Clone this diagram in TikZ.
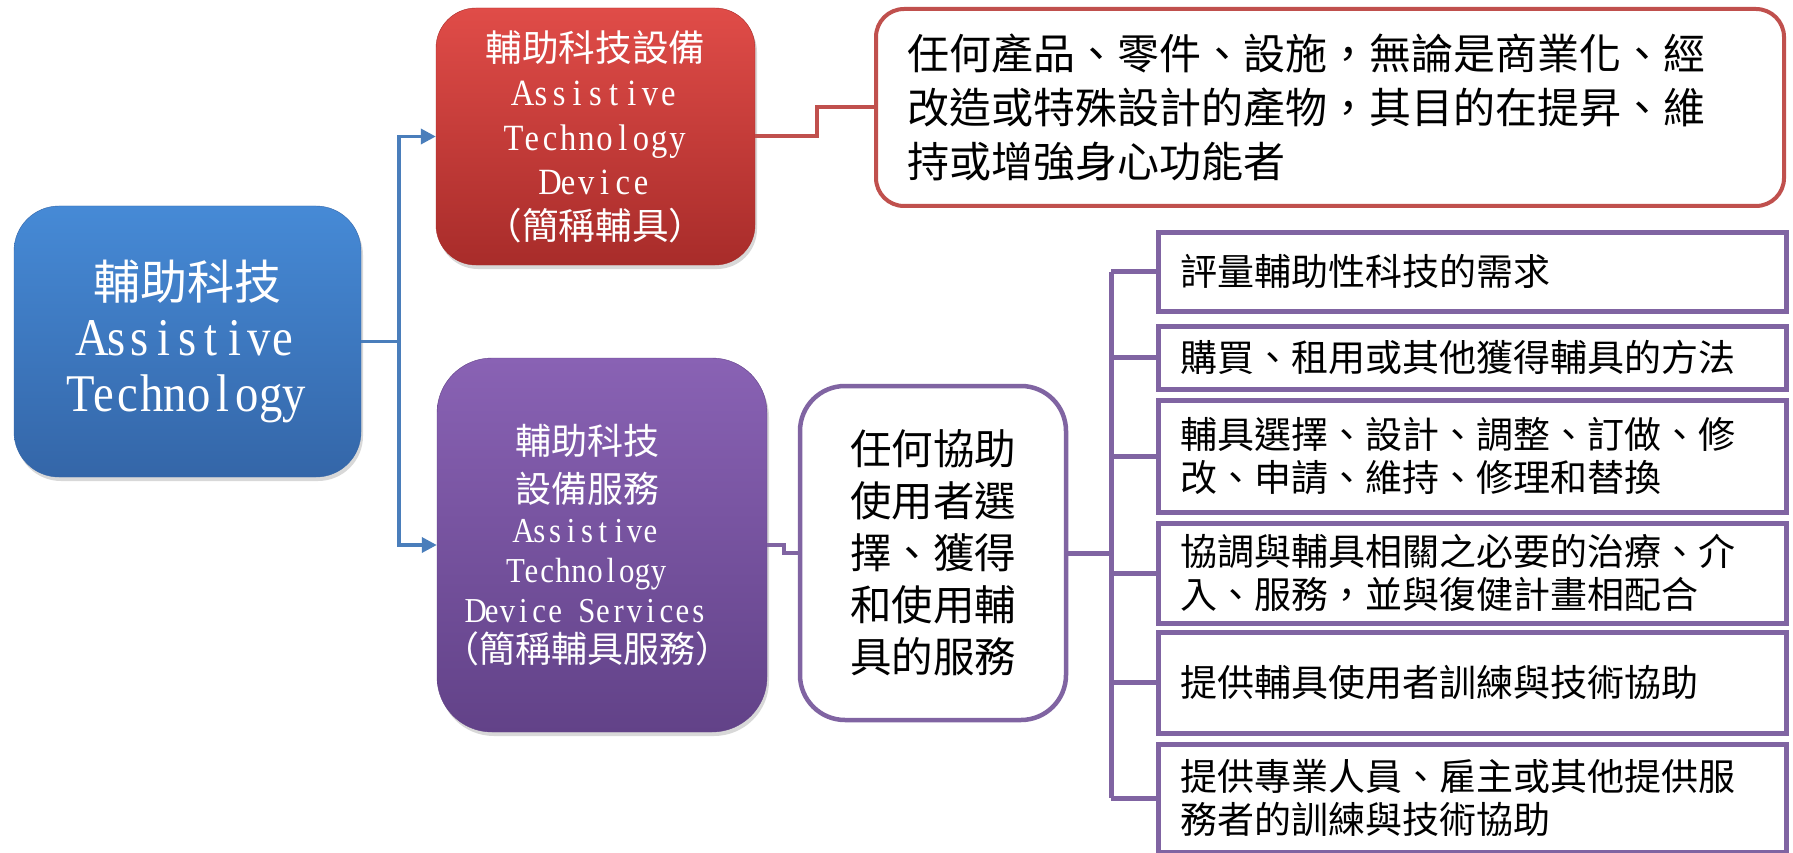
\documentclass[tikz,border=0pt]{standalone}
\usepackage{fontspec}
\setmainfont{Noto Sans CJK TC}
\newfontfamily\latinf[FakeStretch=0.88]{Liberation Serif}
\usetikzlibrary{positioning}
\usetikzlibrary{shadows}
\usetikzlibrary{arrows.meta}
\usepackage{xcolor}
\definecolor{blueA}{RGB}{70,138,214}
\definecolor{blueB}{RGB}{52,102,168}
\definecolor{blueL}{RGB}{74,126,187}
\definecolor{redA}{RGB}{224,76,72}
\definecolor{redB}{RGB}{168,44,42}
\definecolor{redL}{RGB}{192,80,77}
\definecolor{pplA}{RGB}{137,98,180}
\definecolor{pplB}{RGB}{98,66,136}
\definecolor{pplL}{RGB}{128,100,162}
% fixed pitch latin: size, pitch, text
\makeatletter
\newcommand{\en}[3]{{\latinf\fontsize{#1}{#1}\selectfont\def\en@w{#2}%
    \@tfor\en@c:=#3\do{\makebox[\en@w][c]{\en@c}}}}
\makeatother

\begin{document}
\begin{tikzpicture}[x=1pt, y=-1pt,
    colbox/.style = {rounded corners=#1, text=white, align=center,
                inner sep=0pt, drop shadow={opacity=0.3, shadow xshift=2pt, shadow yshift=-4pt}},
    colbox/.default = 45pt,
    itembox/.style = {draw=pplL, line width=5pt, minimum width=628pt,
                text width=584pt, inner xsep=22pt, inner ysep=0pt, align=left,
                font=\fontsize{37}{43}\selectfont},
    wire/.style = {draw=#1, line width=4pt},
    arr/.style = {-{Triangle[length=15pt,width=15pt]}}
                    ]
        \useasboundingbox[fill=white] (0,0) rectangle (1793,853);
        % left column
        \node[colbox=45pt, top color=blueA, bottom color=blueB, draw=blueB,
              minimum width=347pt, minimum height=271pt,
              font=\fontsize{47}{56}\selectfont] (AT) at (187.5,341.5)
              {輔助科技\\ \en{53}{23.8pt}{Assistive}\\ \en{53}{23.8pt}{Technology}};
        \node[colbox=40pt, top color=redA, bottom color=redB, draw=redB,
              minimum width=319pt, minimum height=257pt,
              font=\fontsize{36.6}{44.5}\selectfont] (ATD) at (595.5,136.5)
              {輔助科技設備\\ \en{37}{18.2pt}{Assistive}\\ \en{37}{18.2pt}{Technology}\\
               \en{37}{18.2pt}{Device}\\ （簡稱輔具）};
        \node[colbox=55pt, top color=pplA, bottom color=pplB, draw=pplB,
              minimum width=330pt, minimum height=374pt] (ATS) at (602,545) {};
        \node[text=white, align=center, inner sep=0pt,
              font=\fontsize{36}{40}\selectfont] (ATSt) at ([xshift=-15pt]ATS.center)
              {輔助科技\\[8pt] 設備服務\\ \en{35}{15.9pt}{Assistive}\\
               \en{35}{15.9pt}{Technology}\\
               \en{35}{15.9pt}{Device\ Services}\\ （簡稱輔具服務）};
        % definitions
        \node[draw=redL, line width=4pt, rounded corners=28pt, fill=white,
              minimum width=908pt, minimum height=197pt, text width=846pt,
              inner xsep=31pt, align=left,
              font=\fontsize{42}{54}\selectfont] (D) at (1330,107.5)
              {任何產品、零件、設施，無論是商業化、經\\改造或特殊設計的產物，其目的在提昇、維\\持或增強身心功能者};
        \node[draw=pplL, line width=4.5pt, rounded corners=45pt, fill=white,
              minimum width=266pt, minimum height=334pt, align=center,
              font=\fontsize{41.5}{52}\selectfont] (S) at (933,553)
              {任何協助\\使用者選\\擇、獲得\\和使用輔\\具的服務};
        % service items
        \foreach \n/\y/\h/\t in {s1/271.5/79/{評量輔助性科技的需求},
                                 s2/357.5/63/{購買、租用或其他獲得輔具的方法},
                                 s3/456/112/{輔具選擇、設計、調整、訂做、修\\改、申請、維持、修理和替換},
                                 s4/573/100/{協調與輔具相關之必要的治療、介\\入、服務，並與復健計畫相配合},
                                 s5/682.5/101/{提供輔具使用者訓練與技術協助},
                                 s6/798/108/{提供專業人員、雇主或其他提供服\\務者的訓練與技術協助}}
            \node[itembox, minimum height=\h pt] (\n) at (1472,\y) {\t};
        % connectors
        \coordinate (fork) at (399,341.5);
        \coordinate (trunk) at (1111,553);
        \draw[wire=blueL, line width=3.5pt] (AT.east) -- (fork);
        \draw[wire=blueL, line width=3.5pt, arr] (fork) |- (ATD.west);
        \draw[wire=blueL, line width=3.5pt, arr] (fork) |- (ATS.west);
        \draw[wire=redL] (ATD.east) -- ++(62,0) |- (D.west);
        \draw[wire=pplL] (ATS.east) -- ++(17,0) |- (S.west);
        \draw[wire=pplL, line width=5pt] (S.east) -- (trunk);
        \draw[wire=pplL, line width=5pt] (s1.west -| trunk) -- (s6.west -| trunk);
        \foreach \n in {s1,s2,s3,s4,s5,s6}
            \draw[wire=pplL, line width=5pt] (\n.west -| trunk) -- (\n.west);
    \end{tikzpicture}
\end{document}
